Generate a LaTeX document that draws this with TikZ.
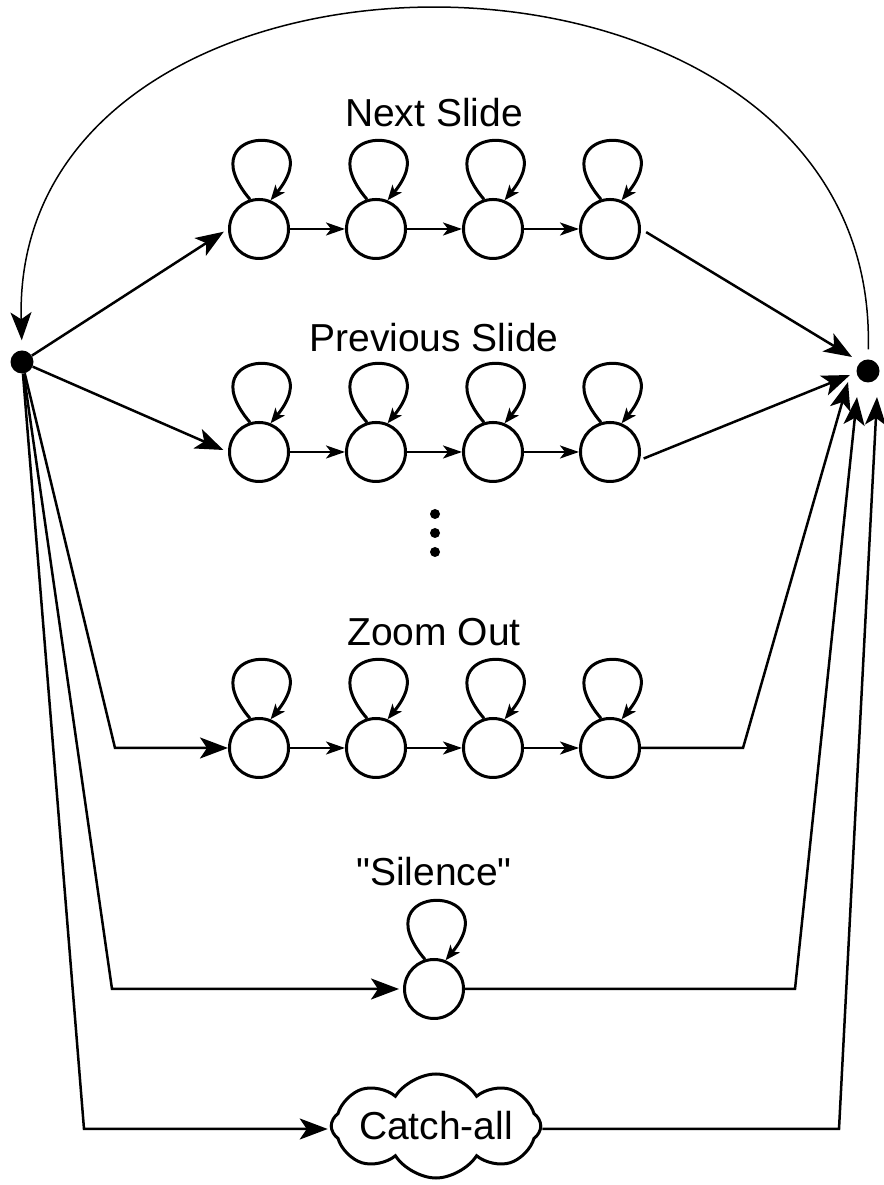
\documentclass[tikz,border=0pt]{standalone}
\usepackage{fontspec}
\setmainfont{Liberation Sans}
\newfontfamily\qfont{Liberation Sans}
\usetikzlibrary{arrows.meta, calc, shapes.symbols}

\begin{document}
\begin{tikzpicture}[x=1pt, y=1pt,
    font=\fontsize{39}{46}\selectfont,
    st/.style={circle, draw, line width=3pt, minimum size=59pt, inner sep=0pt},
    hub/.style={circle, fill, minimum size=23pt, inner sep=0pt},
    lbl/.style={inner sep=0pt},
    dotst/.style={circle, fill, minimum size=10pt, inner sep=0pt},
    big/.style={-{Stealth[length=28pt, width=21pt, inset=7pt]}, line width=2.5pt},
    small/.style={-{Stealth[length=19pt, width=13pt, inset=5pt]}, line width=2.5pt},
    self/.style={-{Stealth[length=15pt, width=12pt, inset=4pt]}, line width=3pt},
    plain/.style={line width=2.5pt}
  ]
  \useasboundingbox (0,0) rectangle (883,1185);

  \node[hub] (l) at (22,823) {};
  \node[hub] (r) at (868,814) {};

  % rows of states with self loops
  \foreach \row/\y in {a/956, b/733, c/437} {
    \foreach \x [count=\i] in {259, 376, 493, 610} {
      \node[st] (\row\i) at (\x,\y) {};
      \draw[self] (\row\i.107) .. controls +(-66,78) and +(64,78) .. (\row\i.68);
    }
    \foreach \i/\j in {1/2, 2/3, 3/4}
      \draw[small] (\row\i) -- (\row\j);
  }

  \node[lbl] (na) at (434,1072) {Next Slide};
  \node[lbl] (nb) at (434,847) {Previous Slide};
  \node[lbl] (nc) at (434,553) {Zoom Out};
  \node[lbl] (ns) at (434,313) {\qfont "Silence"};

  \node[dotst] (d1) at (435,671) {};
  \node[dotst] (d2) at (435,652) {};
  \node[dotst] (d3) at (435,633) {};

  \node[st] (sl) at (434,196) {};
  \draw[self] (sl.107) .. controls +(-66,78) and +(64,78) .. (sl.68);

  \node[cloud, draw, line width=3pt, cloud puffs=8, cloud puff arc=115,
    cloud ignores aspect, minimum width=206pt, minimum height=104pt,
    inner sep=0pt] (ca) at (436,59) {Catch-all};

  % corners and arrow ends
  \coordinate (kc) at (115,437);
  \coordinate (ks) at (112,196);
  \coordinate (kk) at (84,56);
  \coordinate (jc) at (743,437);
  \coordinate (js) at (795,196);
  \coordinate (jk) at (839,56);
  \coordinate (ea) at (852,828);
  \coordinate (eb) at (850,810);
  \coordinate (ec) at (848,803);
  \coordinate (es) at (857,788);
  \coordinate (ek) at (877,788);

  \draw[big, shorten >=5pt] (l) -- (a1.west);
  \draw[big, shorten >=5pt] (l) -- (b1.west);
  \draw[big] (l) -- (kc) -- (c1.west);
  \draw[big, shorten >=4pt] (l) -- (ks) -- (sl.west);
  \draw[big, shorten >=2pt] (l) -- (kk) -- (ca.west |- kk);

  \draw[big, shorten <=6pt] (a4.east) -- (ea);
  \draw[big, shorten <=4pt] (b4.-15) -- (eb);
  \draw[big] (c4.east) -- (jc) -- (ec);
  \draw[big] (sl.east) -- (js) -- (es);
  \draw[big] (ca.east |- jk) -- (jk) -- (ek);

  \draw[-{Stealth[length=28pt, width=21pt, inset=7pt]}, line width=1.5pt,
    shorten >=10pt, shorten <=10pt] (r.north) .. controls (880,1287) and (10,1287) .. (l.north);
\end{tikzpicture}
\end{document}
